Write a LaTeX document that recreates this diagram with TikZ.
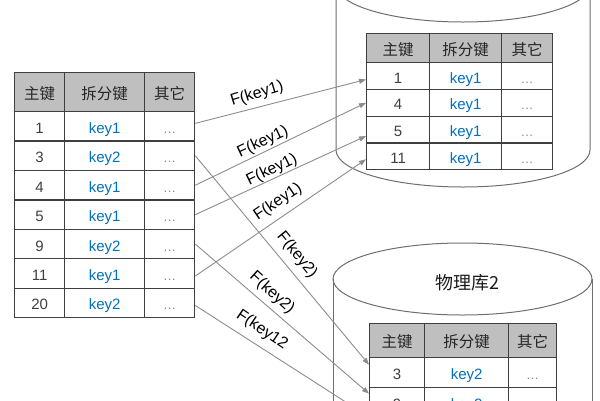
\documentclass[tikz,border=0pt]{standalone}
\usepackage{fontspec}
\setmainfont{Liberation Sans}
\newfontfamily\cjk{Noto Sans CJK SC}
\usetikzlibrary{arrows.meta,calc}
\definecolor{tline}{HTML}{3F3F3F}
\definecolor{thead}{HTML}{BFBFBF}
\definecolor{keyblue}{HTML}{0070C0}
\definecolor{numgray}{HTML}{404040}
\definecolor{dotgray}{HTML}{8A8A8A}
\definecolor{arrgray}{HTML}{8C8C8C}
\definecolor{cylgray}{HTML}{6E6E6E}
\begin{document}
\begin{tikzpicture}[x=1pt,y=-1pt,
  cell/.style={draw=tline, line width=1.3pt, fill=white, inner sep=0pt, anchor=north west,
    text height=14pt, text depth=0pt, font=\fontsize{15}{18}\selectfont},
  hcell/.style={cell, fill=thead, text=black!85, font=\cjk\fontsize{15.5}{18}\selectfont},
  numcell/.style={cell, text=numgray},
  keycell/.style={cell, text=keyblue},
  dotcell/.style={cell, text=dotgray, font=\fontsize{13}{15}\selectfont},
  cyl/.style={draw=cylgray, line width=1pt},
  arr/.style={draw=arrgray, line width=0.9pt, -{Triangle[length=7pt,width=5pt]}},
  lbl/.style={inner sep=0pt, text=black, font=\fontsize{16}{18}\selectfont}]
\useasboundingbox (0,0) rectangle (600,400);
\clip (0,0) rectangle (600,400);
% cylinders
\draw[cyl] (463,-15) ellipse [x radius=127pt, y radius=37pt];
\draw[cyl] (336,-15) -- (336,150) arc [start angle=180, end angle=360, x radius=127pt, y radius=37pt] -- (590,-15);
\draw[cyl] (462.5,279) ellipse [x radius=129.5pt, y radius=36pt];
\draw[cyl] (333,279) -- (333,420);
\draw[cyl] (592,279) -- (592,420);
\node[font=\cjk\fontsize{18}{20}\selectfont, text=black!90] (db2) at (467,283) {物理库2};
% left table
\node[hcell, minimum width=50pt, minimum height=39pt] (LHa) at (14,72) {主键};
\node[hcell, minimum width=80pt, minimum height=39pt] (LHb) at (64,72) {拆分键};
\node[hcell, minimum width=50pt, minimum height=39pt] (LHc) at (144,72) {其它};
\foreach \n/\k [count=\i] in {1/key1,3/key2,4/key1,5/key1,9/key2,11/key1,20/key2}{
  \pgfmathsetmacro\yy{111+29.43*(\i-1)}
  \node[numcell, minimum width=50pt, minimum height=29.43pt] (La\i) at (14,\yy) {\n};
  \node[keycell, minimum width=80pt, minimum height=29.43pt] (Lb\i) at (64,\yy) {\k};
  \node[dotcell, minimum width=50pt, minimum height=29.43pt] (Lc\i) at (144,\yy) {…};
}
% top table
\node[hcell, minimum width=63pt, minimum height=29pt] (THa) at (366,33) {主键};
\node[hcell, minimum width=72pt, minimum height=29pt] (THb) at (429,33) {拆分键};
\node[hcell, minimum width=51pt, minimum height=29pt] (THc) at (501,33) {其它};
\foreach \n/\k [count=\i] in {1/key1,4/key1,5/key1,11/key1}{
  \pgfmathsetmacro\yy{62+26.75*(\i-1)}
  \node[numcell, minimum width=63pt, minimum height=26.75pt] (Ta\i) at (366,\yy) {\n};
  \node[keycell, minimum width=72pt, minimum height=26.75pt] (Tb\i) at (429,\yy) {\k};
  \node[dotcell, minimum width=51pt, minimum height=26.75pt] (Tc\i) at (501,\yy) {…};
}
% bottom table
\node[hcell, minimum width=55pt, minimum height=34pt] (BHa) at (369,323) {主键};
\node[hcell, minimum width=84pt, minimum height=34pt] (BHb) at (424,323) {拆分键};
\node[hcell, minimum width=48pt, minimum height=34pt] (BHc) at (508,323) {其它};
\foreach \n/\k [count=\i] in {3/key2,9/key2}{
  \pgfmathsetmacro\yy{357+30*(\i-1)}
  \node[numcell, minimum width=55pt, minimum height=30pt] (Ba\i) at (369,\yy) {\n};
  \node[keycell, minimum width=84pt, minimum height=30pt] (Bb\i) at (424,\yy) {\k};
  \node[dotcell, minimum width=48pt, minimum height=30pt] (Bc\i) at (508,\yy) {…};
}
\coordinate (e7) at (369,417);
% arrows
\draw[arr] ([yshift=3pt]Lc1.east) -- ([yshift=-3.5pt]Ta1.west);
\draw[arr] (Lc3.east) -- (Tb2.west -| Ta2.west);
\draw[arr] (Lc4.east) -- ([yshift=-6.5pt]Ta3.west);
\draw[arr] ([yshift=-2.5pt]Lc6.east) -- ([yshift=-3pt]Ta4.west);
\draw[arr] (Lc2.east) -- ([yshift=8pt]Ba1.west);
\draw[arr] (Lc5.east) -- ([yshift=9pt]Ba2.west);
\draw[arr] ([yshift=-2.5pt]Lc7.east) -- (e7);
% labels
\node[lbl, rotate=17] (f1) at (257,94) {F(key1)};
\node[lbl, rotate=25] (f2) at (263,142) {F(key1)};
\node[lbl, rotate=26] (f3) at (272,170) {F(key1)};
\node[lbl, rotate=34] (f4) at (278,202) {F(key1)};
\node[lbl, rotate=-51] (f5) at (297,255) {F(key2)};
\node[lbl, rotate=-42] (f6) at (272,293) {F(key2)};
\node[lbl, rotate=-34] (f7) at (262,330) {F(key12};
\end{tikzpicture}
\end{document}
